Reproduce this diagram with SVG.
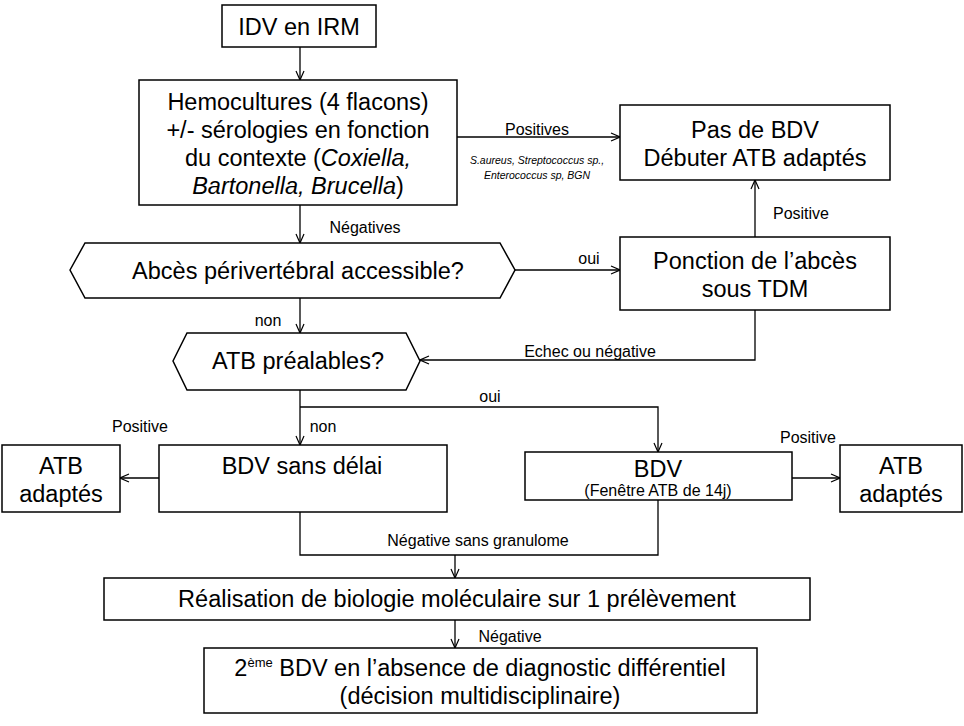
<svg xmlns="http://www.w3.org/2000/svg" width="964" height="726" viewBox="0 0 964 726">
<style>
.b{fill:#fff;stroke:#000;stroke-width:1.5}
.t{font-family:"Liberation Sans",Arial,sans-serif;font-size:23.5px;text-anchor:middle;fill:#000}
.s{font-family:"Liberation Sans",Arial,sans-serif;font-size:16px;text-anchor:middle;fill:#000}
.c path{fill:none;stroke:#000;stroke-width:1.3}
</style>
<defs><marker id="a" viewBox="0 0 10 10" refX="10" refY="5" markerWidth="10" markerHeight="10" markerUnits="userSpaceOnUse" orient="auto"><path d="M1,1 L10,5 L1,9" fill="none" stroke="#000" stroke-width="1.2"/></marker></defs>
<rect width="964" height="726" fill="#fff"/>
<g class="c">
<path d="M300,47V80" marker-end="url(#a)"/>
<path d="M457,137H620" marker-end="url(#a)"/>
<path d="M300,205V243" marker-end="url(#a)"/>
<path d="M515,270H620" marker-end="url(#a)"/>
<path d="M755,237V180" marker-end="url(#a)"/>
<path d="M755,310V360H420" marker-end="url(#a)"/>
<path d="M300,298V333" marker-end="url(#a)"/>
<path d="M300,390V445" marker-end="url(#a)"/>
<path d="M300,407H658V452" marker-end="url(#a)"/>
<path d="M159,478H120" marker-end="url(#a)"/>
<path d="M792,478H840" marker-end="url(#a)"/>
<path d="M300,512V555H658V500"/>
<path d="M455,555V578" marker-end="url(#a)"/>
<path d="M455,620V648" marker-end="url(#a)"/>
<text class="s" x="537" y="135">Positives</text>
<text x="537" y="164" style="font-family:'Liberation Sans',Arial,sans-serif;font-size:10.5px;font-style:italic;text-anchor:middle">S.aureus, Streptococcus sp.,</text>
<text x="537" y="179" style="font-family:'Liberation Sans',Arial,sans-serif;font-size:10.5px;font-style:italic;text-anchor:middle">Enterococcus sp, BGN</text>
<text class="s" x="365" y="233">Négatives</text>
<text class="s" x="589" y="264">oui</text>
<text class="s" x="801" y="219">Positive</text>
<text class="s" x="590" y="357">Echec ou négative</text>
<text class="s" x="268" y="326">non</text>
<text class="s" x="323" y="432">non</text>
<text class="s" x="490" y="402">oui</text>
<text class="s" x="140" y="432">Positive</text>
<text class="s" x="808" y="443">Positive</text>
<text class="s" x="478" y="546">Négative sans granulome</text>
<text class="s" x="510" y="642">Négative</text>
</g>
<g id="idv"><rect class="b" x="222" y="5" width="154" height="42"/><text class="t" x="299" y="35">IDV en IRM</text></g>
<g id="hemo"><rect class="b" x="139" y="80" width="318" height="125"/>
<text class="t" x="298" y="110">Hemocultures (4 flacons)</text>
<text class="t" x="298" y="138">+/- sérologies en fonction</text>
<text class="t" x="298" y="166">du contexte (<tspan font-style="italic">Coxiella,</tspan></text>
<text class="t" x="298" y="194"><tspan font-style="italic">Bartonella, Brucella</tspan>)</text></g>
<g id="pasbdv"><rect class="b" x="620" y="105" width="270" height="75"/><text class="t" x="755" y="138">Pas de BDV</text><text class="t" x="755" y="166">Débuter ATB adaptés</text></g>
<g id="abces"><path class="b" d="M70,270L85,243H500L515,270L500,298H85Z"/><text class="t" x="298" y="279">Abcès périvertébral accessible?</text></g>
<g id="ponction"><rect class="b" x="620" y="237" width="270" height="73"/><text class="t" x="755" y="269">Ponction de l’abcès</text><text class="t" x="755" y="297">sous TDM</text></g>
<g id="atbpre"><path class="b" d="M173,361L187,333H406L420,361L406,390H187Z"/><text class="t" x="298" y="369">ATB préalables?</text></g>
<g id="bdvsd"><rect class="b" x="159" y="445" width="288" height="67"/><text class="t" x="302" y="474">BDV sans délai</text></g>
<g id="atbl"><rect class="b" x="2" y="445" width="118" height="67"/><text class="t" x="61" y="474">ATB</text><text class="t" x="61" y="502">adaptés</text></g>
<g id="bdvr"><rect class="b" x="525" y="452" width="267" height="48"/><text class="t" x="658" y="477">BDV</text><text class="s" x="658" y="496">(Fenêtre ATB de 14j)</text></g>
<g id="atbr"><rect class="b" x="840" y="445" width="122" height="67"/><text class="t" x="901" y="474">ATB</text><text class="t" x="901" y="502">adaptés</text></g>
<g id="bio"><rect class="b" x="104" y="578" width="706" height="42"/><text class="t" x="457" y="607">Réalisation de biologie moléculaire sur 1 prélèvement</text></g>
<g id="bdv2"><rect class="b" x="204" y="648" width="553" height="65"/><text class="t" x="480" y="676">2<tspan font-size="13" dy="-9">ème</tspan><tspan dy="9"> BDV en l’absence de diagnostic différentiel</tspan></text><text class="t" x="480" y="704">(décision multidisciplinaire)</text></g>
</svg>
